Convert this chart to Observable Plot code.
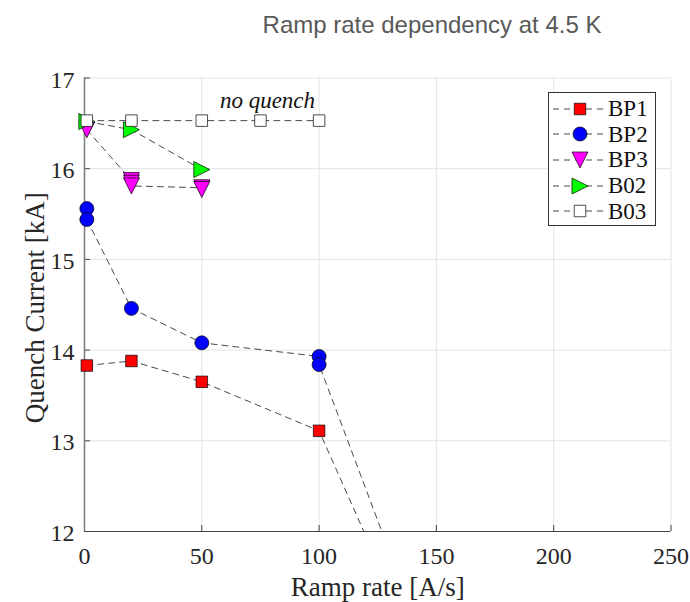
<!DOCTYPE html>
<html>
<head>
<meta charset="utf-8">
<script src="https://cdn.jsdelivr.net/npm/d3@7"></script>
<script src="https://cdn.jsdelivr.net/npm/@observablehq/plot@0.6"></script>
<style>
  html, body { margin: 0; padding: 0; background: #fff; }
  #wrap { position: relative; width: 690px; height: 602px; overflow: hidden; }
  #title { height: 50px; width: 690px; position: relative; }
  #title span { position: absolute; left: 432px; top: 11px; transform: translateX(-50%);
    font-family: "Liberation Sans", Arial, sans-serif; font-size: 24px; color: #595959; white-space: nowrap; }
  #legend { position: absolute; left: 548px; top: 92px; width: 108px; height: 134px;
    border: 1px solid #333; background: #fff; box-sizing: border-box; padding-top: 3px; }
  .row { display: flex; align-items: center; height: 25.6px; }
  .row svg { display: block; margin-left: 3px; }
  .row span { font-family: "Liberation Serif", "Times New Roman", serif; font-size: 23px; color: #111; margin-left: 2px; line-height: 1; }
</style>
</head>
<body>
<div id="wrap">
  <div id="title"><span>Ramp rate dependency at 4.5 K</span></div>
  <div id="chart"></div>
  <div id="legend"></div>
</div>
<script>
// ---- data ----
const seriesNames = ["BP1", "BP2", "BP3", "B02", "B03"];

const rampBP1 = [1, 20, 50, 100, 150];
const iqBP1   = [13.83, 13.88, 13.65, 13.11, 10.2];

const rampBP2 = [1, 1, 20, 50, 100, 100, 150];
const iqBP2   = [15.56, 15.44, 14.46, 14.08, 13.93, 13.84, 10.4];

const rampBP3 = [1, 20, 20, 20, 50, 50];
const iqBP3   = [16.43, 15.87, 15.84, 15.81, 15.79, 15.77];

const rampB02 = [1, 20, 50];
const iqB02   = [16.52, 16.43, 15.99];

const rampB03 = [1, 20, 50, 75, 100];
const iqB03   = [16.53, 16.53, 16.53, 16.53, 16.53];

const xTicks = [0, 50, 100, 150, 200, 250];
const yTicks = [12, 13, 14, 15, 16, 17];

const annotation = [{x: 78, y: 16.67, text: "no quench"}];

// ---- custom marker symbols ----
const triangleDown = {
  draw(ctx, size) {
    const r = Math.sqrt(size / Math.PI);
    ctx.moveTo(-r, -r); ctx.lineTo(r, -r); ctx.lineTo(0, r); ctx.closePath();
  }
};
const triangleRight = {
  draw(ctx, size) {
    const r = Math.sqrt(size / Math.PI);
    ctx.moveTo(-r, -r); ctx.lineTo(r, 0); ctx.lineTo(-r, r); ctx.closePath();
  }
};

const styles = {
  BP1: {symbol: "square", fill: "#ff0000", r: 6.5},
  BP2: {symbol: "circle", fill: "#0000ff", r: 7},
  BP3: {symbol: triangleDown, fill: "#ff00ff", r: 8},
  B02: {symbol: triangleRight, fill: "#00ff00", r: 8},
  B03: {symbol: "square", fill: "#ffffff", r: 6.5}
};

const toRows = (xs, ys) => xs.map((x, i) => ({x, y: ys[i]}));
const data = {
  BP1: toRows(rampBP1, iqBP1),
  BP2: toRows(rampBP2, iqBP2),
  BP3: toRows(rampBP3, iqBP3),
  B02: toRows(rampB02, iqB02),
  B03: toRows(rampB03, iqB03)
};

const W = 690, H = 552;
const mL = 84, mR = 19.5, mT = 27.5, mB = 71;
const plotW = W - mL - mR, plotH = H - mT - mB;
const serif = "Liberation Serif, Times New Roman, serif";
const fmt = d3.format("d");

const seriesMarks = seriesNames.flatMap(name => [
  Plot.line(data[name], {x: "x", y: "y", stroke: "#333", strokeWidth: 0.9,
    strokeDasharray: "6,5", clip: true}),
  Plot.dot(data[name], {x: "x", y: "y", symbol: styles[name].symbol, r: styles[name].r,
    fill: styles[name].fill, stroke: "#000", strokeWidth: 0.7})
]);

const chart = Plot.plot({
  width: W, height: H,
  marginLeft: mL, marginRight: mR, marginTop: mT, marginBottom: mB,
  style: {fontFamily: serif, background: "#fff", overflow: "visible"},
  x: {domain: [0, 250], ticks: xTicks},
  y: {domain: [12, 17], ticks: yTicks},
  marks: [
    Plot.ruleX(xTicks, {x: d => d, stroke: "#e3e3e3", strokeWidth: 1}),
    Plot.ruleY(yTicks, {y: d => d, stroke: "#e3e3e3", strokeWidth: 1}),
    Plot.tickX(xTicks, {x: d => d, insetTop: plotH - 6, stroke: "#444", strokeWidth: 1}),
    Plot.tickY(yTicks, {y: d => d, insetRight: plotW - 6, stroke: "#444", strokeWidth: 1}),
    Plot.ruleY([12], {stroke: "#444", strokeWidth: 1.2}),
    Plot.ruleX([0], {stroke: "#808080", strokeWidth: 1.6}),
    Plot.axisX({ticks: xTicks, tickFormat: fmt, tickSize: 0, tickPadding: 15, fontSize: 24, label: null,
      fontFamily: serif, color: "#262626"}),
    Plot.axisY({ticks: yTicks, tickFormat: fmt, tickSize: 0, tickPadding: 10, fontSize: 24, label: null,
      fontFamily: serif, color: "#262626", dy: 2}),
    Plot.text(["Ramp rate [A/s]"], {frameAnchor: "bottom", dy: 64, lineAnchor: "bottom",
      fontSize: 27, fontFamily: serif, fill: "#262626"}),
    Plot.text(["Quench Current [kA]"], {frameAnchor: "left", rotate: -90, dx: -41, dy: 3,
      textAnchor: "middle", lineAnchor: "bottom", fontSize: 27, fontFamily: serif, fill: "#262626"}),
    ...seriesMarks,
    Plot.text(annotation, {x: "x", y: "y", text: "text", lineAnchor: "bottom",
      fontSize: 23, fontStyle: "italic", fontFamily: serif, fill: "#111"})
  ]
});
document.getElementById("chart").appendChild(chart);

// ---- legend ----
const legend = document.getElementById("legend");
seriesNames.forEach(name => {
  const row = document.createElement("div");
  row.className = "row";
  const st = styles[name];
  const svg = d3.create("svg").attr("width", 54).attr("height", 20);
  svg.append("line").attr("x1", 1).attr("x2", 53).attr("y1", 10).attr("y2", 10)
    .attr("stroke", "#333").attr("stroke-width", 0.9).attr("stroke-dasharray", "6,5");
  const sym = typeof st.symbol === "string"
    ? (st.symbol === "square" ? d3.symbolSquare : d3.symbolCircle) : st.symbol;
  svg.append("path").attr("transform", "translate(28,10)")
    .attr("d", d3.symbol(sym, st.r * st.r * Math.PI)())
    .attr("fill", st.fill).attr("stroke", "#000").attr("stroke-width", 0.7);
  row.appendChild(svg.node());
  const label = document.createElement("span");
  label.textContent = name;
  row.appendChild(label);
  legend.appendChild(row);
});
</script>
</body>
</html>
